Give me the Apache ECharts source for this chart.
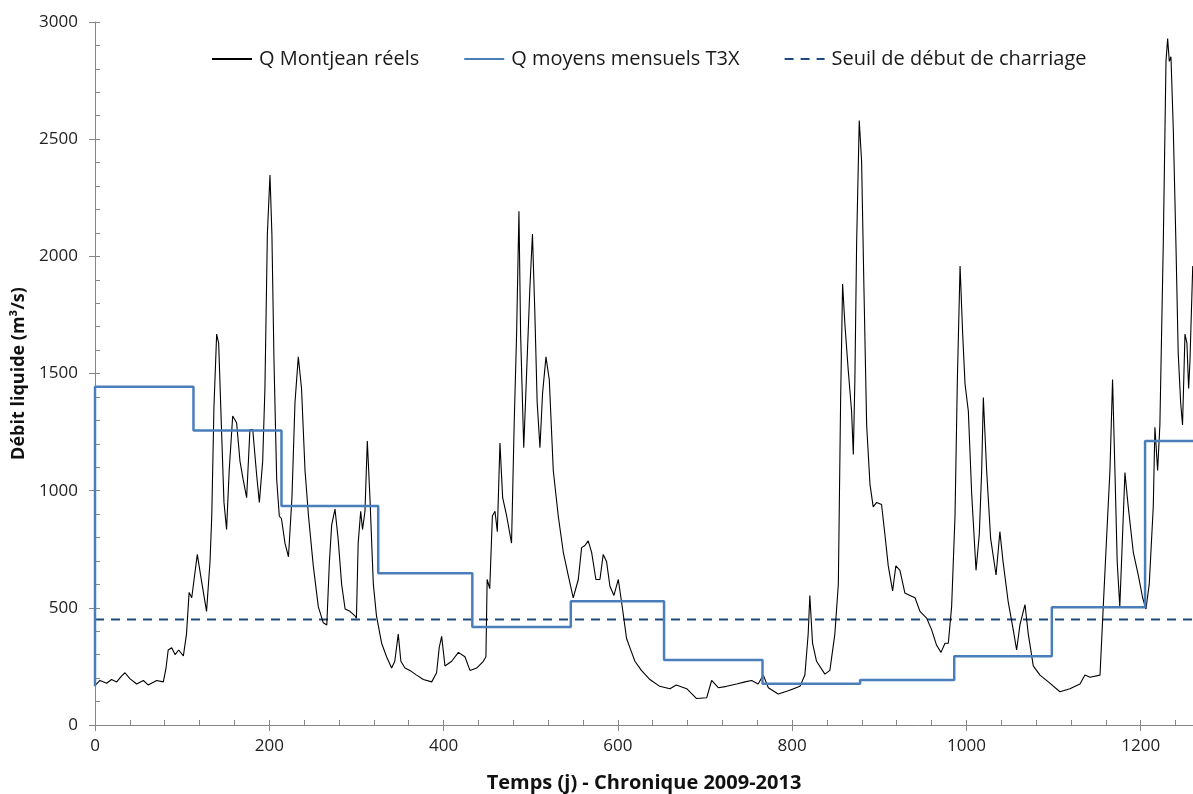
<!DOCTYPE html>
<html>
<head>
<meta charset="utf-8">
<script src="https://cdn.jsdelivr.net/npm/echarts@6/dist/echarts.min.js"></script>
<style>
  html, body { margin: 0; padding: 0; background: #fff; }
  #chart { width: 1193px; height: 794px; }
</style>
</head>
<body>
<div id="chart"></div>
<script>
// débits journaliers réels à Montjean
const montjeanDays = [
  0.7, 5.7, 13.4, 19, 24.9, 30.6, 34.4, 40, 47.8, 55.5, 61, 70.8, 78.4, 81.5, 84, 88, 92, 96, 101.4, 105,
  108, 111, 117.4, 122.4, 128, 132, 134, 136.5, 139.6, 141.9, 145, 148, 151, 154, 158, 162.5, 166.4, 170, 174, 177.8,
  181, 185.5, 188.6, 192.4, 195, 197.8, 200.8, 203, 205.4, 208.5, 211.5, 214, 218, 222, 226, 229.5, 233.3, 237, 241, 245,
  250.5, 256.3, 262, 266, 269, 271.6, 275.4, 279, 283, 287, 292.6, 298.3, 300, 302, 304.9, 307, 309.8, 312.5, 315.5, 319.4,
  323, 328.9, 334.6, 340.4, 344, 348, 351, 355.7, 361.4, 369, 376.8, 386.4, 392, 395, 397.8, 401.6, 409.3, 417, 424.5, 430.3,
  438, 445.6, 448.6, 450, 453, 456, 459, 461.7, 464.7, 467.8, 472.4, 478, 481, 483.8, 486.5, 488.4, 492, 495, 499, 502,
  504.7, 507.4, 510.6, 513.6, 517.5, 521.3, 525.9, 531.6, 537.4, 543, 548.8, 554.6, 558.4, 562.2, 566, 569.9, 574.8, 579.4, 583.2, 587,
  590.9, 595.5, 600.5, 604.3, 610, 615.8, 619.6, 627, 636.8, 648, 659.8, 667, 679, 690.4, 701.9, 707.6, 715.3, 724.8, 736.3, 745.9,
  753.5, 761, 766.9, 772.7, 784, 795.6, 809, 814.6, 818.4, 820.3, 823.4, 828, 837.6, 843.3, 849, 853, 855.6, 857.9, 860.6, 864.4,
  868.2, 870.2, 872, 874, 877, 879.7, 882.4, 885.5, 889.3, 893, 897, 902.6, 906.4, 910.3, 915.3, 919, 923.7, 929.4, 935.2, 941,
  946.7, 954.3, 960, 965.8, 970.8, 975.4, 979.2, 983, 986.9, 989.6, 992.7, 995.7, 998.4, 1002.2, 1006, 1011, 1014.8, 1017.5, 1019.4, 1023.2,
  1027.8, 1034, 1038.4, 1042, 1048, 1053.7, 1057.6, 1061.4, 1067.2, 1071, 1076.7, 1084.4, 1094, 1107.3, 1118.8, 1130.3, 1136, 1141.8, 1153.3, 1157,
  1160.8, 1164.7, 1167.7, 1170.4, 1173, 1176, 1179, 1181.9, 1185.7, 1191.5, 1197.2, 1202.2, 1206, 1209.8, 1214.4, 1216.3, 1219.4, 1222, 1225.9, 1229,
  1230.9, 1232.8, 1234.7, 1237.4, 1240.4, 1243, 1245.8, 1248, 1250.8, 1253, 1255, 1256.5, 1259.7
]
const montjeanQ = [
  171, 190, 178, 194, 184, 210, 223, 198, 175, 190, 171, 190, 184, 243, 320, 330, 300, 320, 295, 388,
  566, 543, 728, 611, 485, 698, 892, 1358, 1668, 1630, 1280, 950, 834, 1086, 1319, 1290, 1125, 1048, 970, 1261,
  1261, 1067, 950, 1125, 1436, 2095, 2347, 2095, 1552, 1048, 892, 880, 776, 718, 970, 1377, 1571, 1436, 1086, 892,
  679, 504, 436, 427, 698, 854, 921, 795, 601, 495, 485, 466, 456, 776, 912, 834, 912, 1212, 970, 601,
  466, 349, 291, 243, 272, 388, 272, 243, 233, 213, 194, 184, 223, 330, 378, 252, 272, 310, 291, 233,
  243, 272, 291, 621, 582, 892, 912, 825, 1203, 970, 892, 776, 1280, 1668, 2192, 1668, 1183, 1474, 1862, 2095,
  1765, 1377, 1183, 1416, 1571, 1474, 1086, 892, 737, 640, 543, 621, 757, 766, 786, 737, 621, 621, 728, 698,
  592, 553, 621, 524, 369, 310, 272, 233, 194, 165, 155, 171, 155, 113, 116, 190, 159, 165, 175, 184,
  190, 175, 213, 159, 132, 146, 165, 213, 388, 553, 349, 272, 217, 233, 388, 601, 1377, 1882, 1707, 1513,
  1339, 1154, 1474, 2056, 2580, 2406, 1862, 1280, 1028, 931, 950, 941, 815, 679, 572, 679, 660, 563, 553, 543,
  485, 456, 407, 340, 310, 349, 349, 504, 892, 1474, 1959, 1668, 1455, 1339, 989, 660, 815, 1086, 1397, 1086,
  795, 640, 825, 698, 524, 407, 320, 427, 514, 388, 252, 213, 184, 142, 155, 175, 213, 204, 213, 504,
  795, 1086, 1474, 1086, 698, 504, 795, 1077, 931, 737, 640, 543, 495, 601, 931, 1271, 1086, 1280, 2056, 2832,
  2929, 2832, 2852, 2541, 2056, 1591, 1377, 1280, 1668, 1630, 1436, 1552, 1959
]

// débits moyens T3X par période : début de période et valeur
const t3xStart = [0, 113, 214, 325, 433, 546, 653, 766, 878, 986, 1098, 1205]
const t3xQ = [1443, 1257, 935, 648, 418, 528, 277, 176, 192, 293, 503, 1212]
const t3xFirstQ = 165
const xEnd = 1260

// seuil de début de charriage
const seuilQ = 450

const montjeanData = montjeanDays.map((d, i) => [d, montjeanQ[i]])

const t3xData = [[0, t3xFirstQ]]
t3xStart.forEach((s, i) => {
    const e = i < t3xStart.length - 1 ? t3xStart[i + 1] : xEnd
    t3xData.push([s, t3xQ[i]])
    t3xData.push([e, t3xQ[i]])
})

const seuilData = [[0, seuilQ], [xEnd, seuilQ]]

const font = 'Open Sans'
const axisGrey = '#868686'

var myChart = echarts.init(document.getElementById('chart'))

var option = {
    animation: false,
    textStyle: { fontFamily: font },
    grid: { left: 95, right: 0, top: 22, bottom: 69, containLabel: false, outerBoundsMode: 'none' },
    legend: {
        left: 206,
        top: 44,
        itemGap: 44,
        itemWidth: 40,
        itemHeight: 12,
        itemStyle: { opacity: 0 },
        textStyle: { fontSize: 20, color: '#1a1a1a', fontFamily: font, padding: [0, 0, 0, 2] },
        data: ['Q Montjean réels', 'Q moyens mensuels T3X', 'Seuil de début de charriage']
    },
    xAxis: [
        {
            type: 'value',
            min: 0,
            max: xEnd,
            interval: 200,
            name: 'Temps (j) - Chronique 2009-2013',
            nameLocation: 'middle',
            nameGap: 48,
            nameTextStyle: { fontSize: 20, fontWeight: 'bold', color: '#111', fontFamily: font },
            axisLine: { lineStyle: { color: axisGrey, width: 1 } },
            axisTick: { length: 6, lineStyle: { color: axisGrey } },
            axisLabel: {
                fontSize: 17, color: '#222', margin: 13,
                showMaxLabel: false,
                formatter: v => String(v)
            },
            splitLine: { show: false }
        },
        {
            type: 'value',
            min: 0,
            max: xEnd,
            interval: 200,
            position: 'bottom',
            axisLine: { show: false },
            axisTick: { inside: true, length: 5, lineStyle: { color: axisGrey } },
            minorTick: { show: true, splitNumber: 5, length: 5, lineStyle: { color: axisGrey } },
            axisLabel: { show: false },
            splitLine: { show: false }
        }
    ],
    yAxis: [
        {
            type: 'value',
            min: 0,
            max: 3000,
            interval: 500,
            name: 'Débit liquide (m³/s)',
            nameLocation: 'middle',
            nameGap: 58,
            nameTextStyle: { fontSize: 18, fontWeight: 'bold', color: '#111', fontFamily: font },
            axisLine: { show: true, lineStyle: { color: axisGrey, width: 1 } },
            axisTick: { show: true, length: 6, lineStyle: { color: axisGrey } },
            axisLabel: { fontSize: 17, color: '#222', margin: 17, formatter: v => String(v) },
            splitLine: { show: false }
        },
        {
            type: 'value',
            min: 0,
            max: 3000,
            interval: 500,
            position: 'left',
            axisLine: { show: false },
            axisTick: { show: true, inside: true, length: 5, lineStyle: { color: axisGrey } },
            minorTick: { show: true, splitNumber: 5, length: 5, lineStyle: { color: axisGrey } },
            axisLabel: { show: false },
            splitLine: { show: false }
        }
    ],
    series: [
        {
            name: 'Q Montjean réels',
            type: 'line',
            data: montjeanData,
            showSymbol: false,
            symbol: 'none',
            lineStyle: { color: '#000', width: 1.1 },
            itemStyle: { color: '#000' },
            z: 3
        },
        {
            name: 'Q moyens mensuels T3X',
            type: 'line',
            data: t3xData,
            showSymbol: false,
            symbol: 'none',
            lineStyle: { color: '#4A7EBB', width: 2.5 },
            itemStyle: { color: '#4A7EBB' },
            z: 4
        },
        {
            name: 'Seuil de début de charriage',
            type: 'line',
            data: seuilData,
            showSymbol: false,
            symbol: 'none',
            lineStyle: { color: '#1F497D', width: 2, type: [9, 7] },
            itemStyle: { color: '#1F497D' },
            z: 2
        }
    ]
}

myChart.setOption(option)
</script>
</body>
</html>
